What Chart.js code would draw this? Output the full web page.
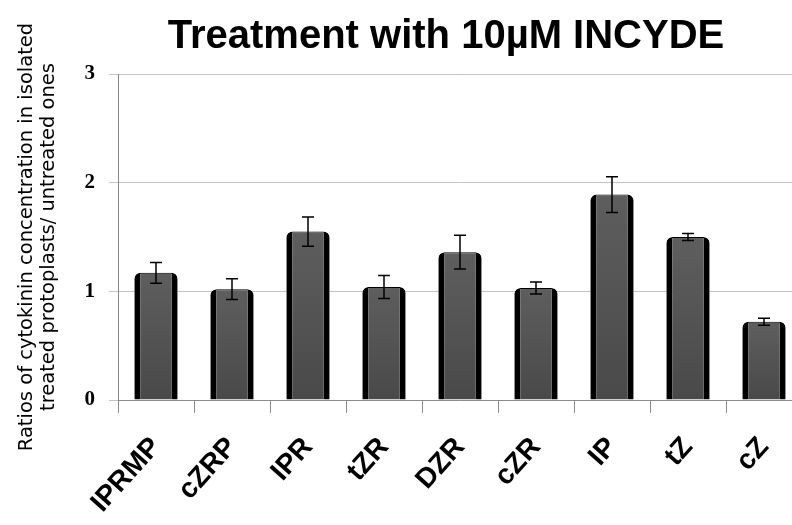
<!DOCTYPE html>
<html>
<head>
<meta charset="utf-8">
<script src="https://cdn.jsdelivr.net/npm/chart.js@4"></script>
<style>
  html, body { margin: 0; padding: 0; background: #fff; overflow: hidden; width: 792px; height: 525px; }
  #wrap { position: absolute; left: 0; top: 0; width: 812px; height: 525px; }
</style>
</head>
<body>
<div id="wrap"><canvas id="chart"></canvas></div>
<script>
// Cytokinin ratios (treated / untreated protoplasts) after 10µM INCYDE
const categories = ['IPRMP', 'cZRP', 'IPR', 'tZR', 'DZR', 'cZR', 'IP', 'tZ', 'cZ'];
const ratios = [1.17, 1.02, 1.55, 1.04, 1.36, 1.03, 1.89, 1.50, 0.72];
const errors = [0.095, 0.095, 0.135, 0.105, 0.155, 0.055, 0.165, 0.033, 0.032];
const yTicks = [0, 1, 2, 3];
const chartTitle = 'Treatment with 10µM INCYDE';
const yTitle = ['Ratios of cytokinin concentration in isolated', 'treated protoplasts/ untreated ones'];

// Error bars drawn through the value scale
const errorBars = {
  id: 'errorBars',
  afterDraw(chart) {
    const { ctx, scales: { y } } = chart;
    const meta = chart.getDatasetMeta(0);
    ctx.save();
    ctx.strokeStyle = '#000';
    ctx.lineWidth = 1.5;
    meta.data.forEach((bar, i) => {
      const x = bar.x;
      const top = y.getPixelForValue(ratios[i] + errors[i]);
      const bottom = y.getPixelForValue(ratios[i] - errors[i]);
      ctx.beginPath();
      ctx.moveTo(x, top); ctx.lineTo(x, bottom);
      ctx.moveTo(x - 6, top); ctx.lineTo(x + 6, top);
      ctx.moveTo(x - 6, bottom); ctx.lineTo(x + 6, bottom);
      ctx.stroke();
    });
    ctx.restore();
  }
};

// Heading placed over the plot
const heading = {
  id: 'heading',
  afterDraw(chart) {
    const { ctx } = chart;
    ctx.save();
    ctx.font = 'bold 40px "Liberation Sans", Arial, sans-serif';
    ctx.fillStyle = '#000';
    ctx.textAlign = 'center';
    ctx.textBaseline = 'alphabetic';
    ctx.fillText(chartTitle, 446, 48);
    ctx.restore();
  }
};

function barFill(context) {
  const chart = context.chart;
  const y = chart.scales && chart.scales.y;
  if (!y || !chart.chartArea) return '#555555';
  const v = ratios[context.dataIndex];
  const top = y.getPixelForValue(v);
  const bottom = y.getPixelForValue(0);
  const g = chart.ctx.createLinearGradient(0, top, 0, bottom);
  g.addColorStop(0, '#5e5e5e');
  g.addColorStop(1, '#494949');
  return g;
}

new Chart(document.getElementById('chart'), {
  type: 'bar',
  data: {
    labels: categories,
    datasets: [{
      data: ratios,
      backgroundColor: barFill,
      borderColor: '#000',
      borderWidth: { left: 6, right: 6, top: 1, bottom: 0 },
      borderRadius: { topLeft: 6, topRight: 6, bottomLeft: 0, bottomRight: 0 },
      borderSkipped: 'start',
      categoryPercentage: 1,
      barPercentage: 0.57
    }]
  },
  options: {
    responsive: true,
    maintainAspectRatio: false,
    animation: false,
    layout: { padding: { top: 74, left: 0, right: 10, bottom: 0 } },
    plugins: {
      legend: { display: false },
      title: { display: false },
      tooltip: { enabled: false }
    },
    scales: {
      x: {
        afterFit(s) { s.height = 125; },
        grid: { drawOnChartArea: false, drawTicks: true, tickLength: 13, color: '#8c8c8c', offset: true },
        border: { color: '#8c8c8c' },
        ticks: {
          autoSkip: false,
          maxRotation: 48,
          minRotation: 48,
          padding: 18,
          color: '#000',
          font: { family: '"Liberation Sans", Arial, sans-serif', size: 28, weight: 'bold' }
        }
      },
      y: {
        z: 1,
        min: 0,
        max: 3,
        afterFit(s) { s.width = 118; },
        afterBuildTicks(s) { s.ticks = yTicks.map(v => ({ value: v })); },
        grid: { color: '#c4c4c4', tickLength: 9 },
        border: { color: '#868686' },
        ticks: {
          padding: 14,
          color: '#000',
          font: { family: '"Liberation Serif", serif', size: 21, weight: 'bold' }
        },
        title: {
          display: true,
          text: yTitle,
          color: '#000',
          padding: { top: 16, bottom: 0 },
          font: { family: '"DejaVu Sans", sans-serif', size: 19.5, lineHeight: 1.13 }
        }
      }
    }
  },
  plugins: [errorBars, heading]
});
</script>
</body>
</html>
